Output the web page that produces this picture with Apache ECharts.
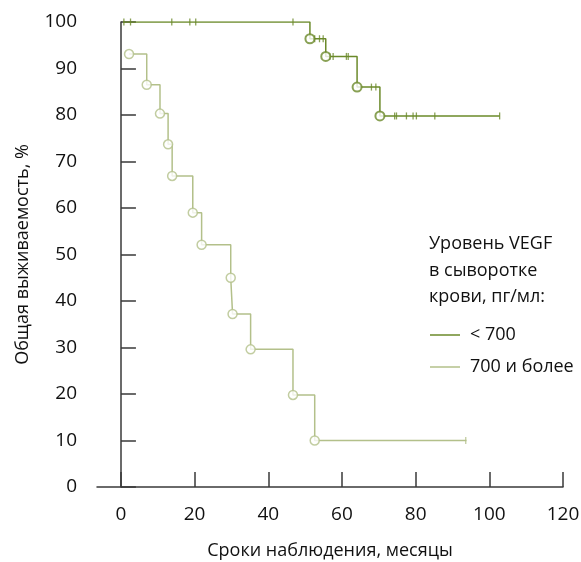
<!DOCTYPE html>
<html>
<head>
<meta charset="utf-8">
<script src="https://cdn.jsdelivr.net/npm/echarts@6/dist/echarts.min.js"></script>
<style>
  html, body { margin: 0; padding: 0; background: #fff; }
  #chart { width: 581px; height: 562px; }
</style>
</head>
<body>
<div id="chart"></div>
<script>
// кривые Каплана-Мейера: [месяцы, %]
const lowCurve = [[0.6, 100], [51.3, 96.4], [55.6, 92.6], [64.1, 86.0], [70.3, 79.8], [102.8, 79.8]];
const lowEvents = [[51.3, 96.4], [55.6, 92.6], [64.1, 86.0], [70.3, 79.8]];
const lowCensored = [
  [0.8, 100], [2.6, 100], [13.8, 100], [18.7, 100], [20.3, 100], [46.7, 100],
  [52.6, 96.4], [53.9, 96.4], [54.9, 96.4],
  [56.7, 92.6], [57.6, 92.6], [61.2, 92.6], [61.7, 92.6],
  [68.0, 86.0], [69.2, 86.0],
  [74.3, 79.8], [74.8, 79.8], [77.5, 79.8], [79.3, 79.8], [80.2, 79.8], [85.2, 79.8], [102.8, 79.8]
];

const highCurve = [
  [2.2, 93.1], [7.0, 86.5], [10.6, 80.3], [12.8, 73.7], [13.9, 66.9], [19.5, 59.0],
  [21.9, 52.1], [29.8, 45.0], [30.3, 37.2], [35.2, 29.6], [46.7, 19.8], [52.6, 10.0], [93.8, 10.0]
];
const highEvents = [
  [2.2, 93.1], [7.0, 86.5], [10.6, 80.3], [12.8, 73.7], [13.9, 66.9], [19.5, 59.0],
  [21.9, 52.1], [29.8, 45.0], [30.3, 37.2], [35.2, 29.6], [46.7, 19.8], [52.6, 10.0]
];
const highCensored = [[93.6, 10.0]];

const xTicks = [0, 20, 40, 60, 80, 100, 120];
const legendNames = ['< 700', '700 и более'];
const legendTitle = ['Уровень VEGF', 'в сыворотке', 'крови, пг/мл:'];

const darkColor = '#6b8a2a';
const lightColor = '#b3c08a';
const axisColor = '#3a3a3a';
const fontFamily = '"Open Sans", sans-serif';

const myChart = echarts.init(document.getElementById('chart'));

const option = {
  animation: false,
  textStyle: { fontFamily: fontFamily },
  grid: { left: 97, right: 18, top: 22, bottom: 75, outerBoundsMode: 'none', containLabel: false },
  legend: {
    data: legendNames,
    orient: 'vertical',
    left: 425,
    top: 321,
    icon: 'rect',
    itemWidth: 30,
    itemHeight: 1.5,
    itemGap: 14,
    textStyle: { fontSize: 18, color: '#111', fontFamily: fontFamily, padding: [0, 0, 0, 5] }
  },
  graphic: [{
    type: 'text',
    left: 429,
    top: 231,
    style: {
      text: legendTitle.join('\n'),
      font: '18px ' + fontFamily,
      lineHeight: 26.5,
      fill: '#111'
    }
  }],
  xAxis: {
    type: 'value',
    min: -6.5,
    max: 120,
    name: 'Сроки наблюдения, месяцы',
    nameLocation: 'middle',
    nameGap: 55,
    nameTextStyle: { fontSize: 18, color: '#111' },
    splitLine: { show: false },
    axisLine: { lineStyle: { color: axisColor, width: 1.5 } },
    axisTick: { inside: true, length: 15, customValues: xTicks, lineStyle: { color: axisColor, width: 1.5 } },
    axisLabel: { customValues: xTicks, margin: 18, fontSize: 19, color: '#111' }
  },
  yAxis: {
    type: 'value',
    min: 0,
    max: 100,
    interval: 10,
    name: 'Общая выживаемость, %',
    nameLocation: 'middle',
    nameGap: 65,
    nameRotate: 90,
    nameTextStyle: { fontSize: 18, color: '#111' },
    splitLine: { show: false },
    axisLine: { show: true, lineStyle: { color: axisColor, width: 1.5 } },
    axisTick: { show: true, inside: true, length: 15, lineStyle: { color: axisColor, width: 1.5 } },
    axisLabel: { margin: 20, fontSize: 19, color: '#111' }
  },
  series: [
    {
      name: '< 700',
      type: 'line',
      step: 'end',
      data: lowCurve,
      showSymbol: false,
      color: darkColor,
      lineStyle: { color: darkColor, width: 1.5 },
      z: 2
    },
    {
      name: '700 и более',
      type: 'line',
      step: 'end',
      data: highCurve,
      showSymbol: false,
      color: lightColor,
      lineStyle: { color: lightColor, width: 1.5 },
      z: 2
    },
    {
      name: 'low-events',
      type: 'scatter',
      data: lowEvents,
      symbol: 'circle',
      symbolSize: 9,
      itemStyle: { color: '#fff', borderColor: darkColor, borderWidth: 2 },
      z: 4
    },
    {
      name: 'high-events',
      type: 'scatter',
      data: highEvents,
      symbol: 'circle',
      symbolSize: 9,
      itemStyle: { color: '#fff', borderColor: lightColor, borderWidth: 1.5 },
      z: 4
    },
    {
      name: 'low-censored',
      type: 'scatter',
      data: lowCensored,
      symbol: 'rect',
      symbolSize: [1.3, 7],
      itemStyle: { color: darkColor },
      z: 3
    },
    {
      name: 'high-censored',
      type: 'scatter',
      data: highCensored,
      symbol: 'rect',
      symbolSize: [1.3, 7],
      itemStyle: { color: lightColor },
      z: 3
    }
  ]
};
myChart.setOption(option, true);

window.addEventListener('resize', () => {
  myChart.resize();
});
</script>
</body>
</html>
